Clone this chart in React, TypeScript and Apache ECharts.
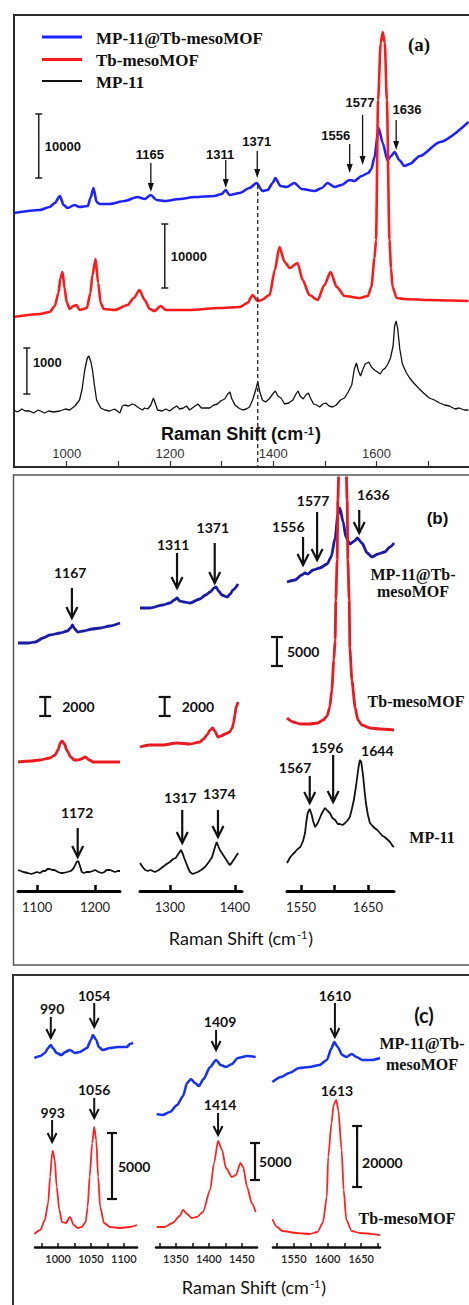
import React, { useEffect, useRef } from "react";
import * as echarts from "echarts";

// ---------- Panel (a): full spectra (intensity above each trace's own baseline, a.u.) ----------
const A_BLUE: number[][] = [[897,2],[948,5],[967,8],[977,12],[987,19],[994,10],[1002,7],[1015,10],[1025,8],[1041,9],[1046,17],[1052,27],[1058,13],[1064,11],[1083,11],[1112,14],[1137,18],[1151,16],[1163,20],[1174,15],[1190,14],[1219,16],[1248,18],[1286,19],[1300,21],[1308,25],[1315,20],[1335,22],[1354,27],[1368,32],[1379,24],[1389,25],[1399,32],[1404,37],[1414,29],[1426,28],[1441,32],[1455,26],[1480,24],[1494,27],[1505,32],[1519,28],[1532,30],[1548,35],[1557,34],[1571,39],[1584,42],[1590,46],[1596,58],[1604,87],[1612,72],[1621,55],[1628,59],[1635,63],[1644,55],[1654,49],[1664,51],[1684,59],[1723,73],[1778,93]];
const A_RED: number[][] = [[897,1],[948,4],[967,6],[977,12],[984,25],[988,40],[992,46],[996,30],[1000,16],[1006,9],[1013,12],[1019,13],[1025,8],[1039,10],[1046,25],[1050,43],[1056,59],[1061,35],[1066,15],[1072,9],[1093,8],[1118,13],[1130,20],[1141,28],[1151,18],[1161,9],[1170,7],[1182,12],[1192,8],[1238,8],[1296,10],[1335,11],[1350,15],[1360,23],[1370,17],[1377,18],[1393,23],[1403,48],[1412,71],[1422,56],[1432,50],[1447,55],[1457,38],[1470,23],[1486,18],[1499,33],[1511,46],[1523,31],[1538,22],[1567,20],[1583,22],[1590,31],[1596,60],[1599,78],[1603,218],[1608,275],[1612,286],[1616,275],[1620,218],[1625,78],[1628,50],[1631,31],[1639,20],[1654,19],[1702,18],[1778,17]];
const A_BLACK: number[][] = [[897,4],[905,2],[913,5],[920,3],[928,3],[936,1],[945,4],[957,1],[965,3],[975,2],[987,3],[997,5],[1006,4],[1016,8],[1025,14],[1030,25],[1035,44],[1040,56],[1043,58],[1047,52],[1050,44],[1054,28],[1058,14],[1066,6],[1074,4],[1083,3],[1093,5],[1103,1],[1108,8],[1112,9],[1120,8],[1127,10],[1132,9],[1140,6],[1147,4],[1151,6],[1157,5],[1163,9],[1168,16],[1172,10],[1176,4],[1185,3],[1192,5],[1199,3],[1207,6],[1213,8],[1219,5],[1226,6],[1232,8],[1238,4],[1246,7],[1254,10],[1261,6],[1270,6],[1277,6],[1285,9],[1292,10],[1298,13],[1306,15],[1312,20],[1316,22],[1320,15],[1326,9],[1333,6],[1341,4],[1348,5],[1354,7],[1360,14],[1366,24],[1370,32],[1374,22],[1379,14],[1385,12],[1392,15],[1399,20],[1404,23],[1409,18],[1415,16],[1422,10],[1430,11],[1438,14],[1444,20],[1448,23],[1452,18],[1458,15],[1463,19],[1468,21],[1472,16],[1478,10],[1484,9],[1490,7],[1496,10],[1502,11],[1508,8],[1515,7],[1522,9],[1530,14],[1538,16],[1545,22],[1552,29],[1557,45],[1561,51],[1565,43],[1569,38],[1573,44],[1578,50],[1585,52],[1590,47],[1596,44],[1602,42],[1607,40],[1612,44],[1617,46],[1622,50],[1627,56],[1632,68],[1635,88],[1638,93],[1641,85],[1645,65],[1650,50],[1657,42],[1664,36],[1672,31],[1683,25],[1693,20],[1702,16],[1712,14],[1722,11],[1732,9],[1741,8],[1752,5],[1760,6],[1770,4],[1778,4]];
const A_OFFSET = { blue: 251, red: 148, black: 52 };

// ---------- Panel (b): zoomed windows (stacked intensity, a.u.) ----------
const B1_BLUE: number[][] = [[1067,248],[1085,248],[1097,249],[1110,253],[1122,256],[1140,258],[1152,260],[1158,263],[1161,266],[1165,262],[1170,259],[1180,260],[1195,262],[1209,263],[1225,265],[1243,268]];
const B1_RED: number[][] = [[1067,129],[1090,130],[1105,131],[1122,133],[1131,136],[1136,141],[1140,148],[1143,150],[1147,147],[1152,140],[1158,134],[1164,131],[1170,131],[1176,132],[1183,134],[1190,131],[1197,129],[1220,129],[1243,129]];
const B1_BLACK: number[][] = [[1067,21],[1072,20],[1076,19],[1084,18],[1090,17],[1095,18],[1100,19],[1105,18],[1110,20],[1114,20],[1118,22],[1122,22],[1126,21],[1130,21],[1136,19],[1141,18],[1145,18],[1152,19],[1158,20],[1162,22],[1165,25],[1168,29],[1171,30],[1174,25],[1177,19],[1181,18],[1185,19],[1191,19],[1196,20],[1200,21],[1206,19],[1212,18],[1216,19],[1220,21],[1226,21],[1230,20],[1234,19],[1239,20],[1243,20]];
const B2_BLUE: number[][] = [[1254,283],[1269,283],[1289,286],[1300,288],[1307,291],[1311,293],[1315,290],[1322,289],[1331,288],[1346,292],[1355,296],[1362,299],[1368,303],[1371,304],[1375,300],[1380,296],[1388,294],[1393,297],[1397,301],[1405,307]];
const B2_RED: number[][] = [[1254,144],[1269,146],[1289,146],[1311,148],[1331,147],[1346,149],[1352,152],[1357,156],[1362,161],[1366,163],[1370,159],[1374,154],[1379,155],[1385,157],[1392,159],[1396,163],[1398,168],[1400,176],[1402,184],[1405,189]];
const B2_BLACK: number[][] = [[1254,28],[1258,24],[1262,21],[1266,20],[1270,21],[1277,19],[1283,21],[1289,24],[1295,27],[1300,29],[1305,32],[1309,33],[1313,37],[1317,41],[1320,37],[1322,33],[1325,28],[1328,23],[1331,19],[1335,17],[1339,18],[1343,19],[1348,21],[1354,24],[1360,29],[1365,34],[1369,43],[1372,49],[1375,44],[1377,41],[1381,37],[1385,33],[1389,29],[1392,26],[1395,28],[1398,31],[1402,35],[1405,38]];
const B3_BLUE: number[][] = [[1529,309],[1541,311],[1551,316],[1556,318],[1560,317],[1568,321],[1578,323],[1589,327],[1595,334],[1601,353],[1605,376],[1608,383],[1613,369],[1617,354],[1623,347],[1630,350],[1634,353],[1641,348],[1649,338],[1656,334],[1665,337],[1675,339],[1683,344],[1689,348]];
const B3_RED: number[][] = [[1529,173],[1538,169],[1549,167],[1563,167],[1575,168],[1583,171],[1589,175],[1593,184],[1596,201],[1599,231],[1601,251],[1602,291],[1604,331],[1605,391],[1612,620],[1619,391],[1620,331],[1622,291],[1623,243],[1626,211],[1631,183],[1635,171],[1641,166],[1653,163],[1668,162],[1689,161]];
const B3_BLACK: number[][] = [[1529,28],[1534,34],[1538,37],[1541,39],[1545,42],[1549,44],[1553,50],[1556,58],[1558,70],[1560,78],[1563,82],[1566,76],[1568,70],[1571,64],[1575,68],[1580,76],[1583,80],[1586,83],[1590,80],[1593,78],[1597,73],[1601,71],[1605,67],[1608,67],[1612,66],[1616,68],[1620,71],[1623,74],[1626,82],[1629,91],[1632,104],[1634,114],[1636,124],[1638,131],[1640,129],[1643,114],[1645,100],[1647,88],[1650,76],[1653,68],[1657,65],[1660,63],[1664,61],[1668,58],[1672,55],[1675,54],[1680,51],[1683,49],[1687,45],[1689,44]];

// ---------- Panel (c): zoomed windows (stacked intensity, a.u.) ----------
const C1_BLUE: number[][] = [[964,189],[973,191],[980,194],[985,199],[989,202],[992,199],[998,194],[1005,192],[1011,195],[1018,197],[1026,194],[1033,195],[1044,199],[1050,207],[1053,212],[1058,207],[1062,200],[1068,197],[1079,199],[1091,200],[1105,200],[1109,203],[1114,204]];
const C1_RED: number[][] = [[964,13],[973,17],[980,27],[985,44],[988,70],[991,94],[992,96],[995,87],[998,60],[1002,37],[1006,25],[1012,24],[1018,30],[1024,22],[1030,19],[1036,20],[1042,25],[1045,40],[1048,70],[1052,104],[1055,120],[1058,107],[1061,70],[1064,40],[1070,24],[1079,20],[1094,19],[1109,20],[1120,22]];
const C2_BLUE: number[][] = [[1321,133],[1330,132],[1341,135],[1352,142],[1361,151],[1367,164],[1373,168],[1379,164],[1385,161],[1392,168],[1402,180],[1411,187],[1418,182],[1426,180],[1435,183],[1444,189],[1458,191],[1471,190]];
const C2_RED: number[][] = [[1321,20],[1333,20],[1345,24],[1356,31],[1361,37],[1367,33],[1374,29],[1382,30],[1391,35],[1402,57],[1408,84],[1414,106],[1420,97],[1426,79],[1435,70],[1441,72],[1448,84],[1452,80],[1458,60],[1465,44],[1471,35]];
const C3_BLUE: number[][] = [[1518,165],[1531,170],[1543,174],[1558,179],[1573,180],[1588,182],[1599,187],[1606,199],[1610,205],[1615,200],[1622,192],[1628,190],[1636,193],[1643,190],[1652,187],[1666,187],[1678,189]];
const C3_RED: number[][] = [[1518,28],[1525,20],[1533,16],[1554,14],[1573,13],[1585,15],[1593,24],[1599,50],[1601,90],[1606,124],[1609,142],[1613,147],[1616,137],[1621,97],[1624,57],[1628,27],[1636,16],[1648,14],[1678,12]];

// ---------- Axis ticks / labels ----------
const A_TICKS = [1000, 1100, 1200, 1300, 1400, 1500, 1600, 1700];
const A_LABELS = [1000, 1200, 1400, 1600];
const B1_TICKS = [1100, 1200];
const B2_TICKS = [1300, 1400];
const B3_TICKS = [1550, 1600, 1650];
const B3_LABELS = [1550, 1650];
const C1_TICKS = [975, 1000, 1025, 1050, 1075, 1100];
const C1_LABELS = [1000, 1050, 1100];
const C2_TICKS = [1325, 1350, 1375, 1400, 1425, 1450];
const C2_LABELS = [1350, 1400, 1450];
const C3_TICKS = [1525, 1550, 1575, 1600, 1625, 1650, 1675];
const C3_LABELS = [1550, 1600, 1650];

const SERIES_NAMES = ["MP-11@Tb-mesoMOF", "Tb-mesoMOF", "MP-11"];

// ---------- Annotations (data coordinates) ----------
const ARROWS = [
  { g: 0, x: 1163, top: 303, tip: 274, label: "1165", lx: 1161, ly: 312 },
  { g: 0, x: 1308, top: 306, tip: 278, label: "1311", lx: 1297, ly: 312 },
  { g: 0, x: 1369, top: 315, tip: 288, label: "1371", lx: 1368, ly: 325 },
  { g: 0, x: 1548, top: 322, tip: 293, label: "1556", lx: 1521, ly: 331 },
  { g: 0, x: 1573, top: 351, tip: 301, label: "1577", lx: 1568, ly: 364 },
  { g: 0, x: 1638, top: 346, tip: 316, label: "1636", lx: 1659, ly: 357 },
  { g: 1, x: 1160, top: 303, tip: 273, label: "1167", lx: 1157, ly: 319 },
  { g: 1, x: 1170, top: 63, tip: 34, label: "1172", lx: 1169, ly: 79 },
  { g: 2, x: 1311, top: 338, tip: 303, label: "1311", lx: 1305, ly: 347 },
  { g: 2, x: 1369, top: 348, tip: 308, label: "1371", lx: 1366, ly: 364 },
  { g: 2, x: 1319, top: 81, tip: 48, label: "1317", lx: 1316, ly: 94 },
  { g: 2, x: 1374, top: 81, tip: 54, label: "1374", lx: 1376, ly: 98 },
  { g: 3, x: 1553, top: 354, tip: 326, label: "1556", lx: 1531, ly: 365 },
  { g: 3, x: 1574, top: 379, tip: 331, label: "1577", lx: 1568, ly: 391 },
  { g: 3, x: 1637, top: 381, tip: 358, label: "1636", lx: 1658, ly: 397 },
  { g: 3, x: 1563, top: 115, tip: 88, label: "1567", lx: 1541, ly: 124 },
  { g: 3, x: 1598, top: 136, tip: 89, label: "1596", lx: 1589, ly: 144 },
  { g: 3, x: null, top: 0, tip: 0, label: "1644", lx: 1664, ly: 141 },
  { g: 4, x: 989, top: 230, tip: 209, label: "990", lx: 991, ly: 239 },
  { g: 4, x: 1055, top: 244, tip: 220, label: "1054", lx: 1055, ly: 252 },
  { g: 4, x: 991, top: 127, tip: 105, label: "993", lx: 992, ly: 135 },
  { g: 4, x: 1055, top: 149, tip: 129, label: "1056", lx: 1055, ly: 158 },
  { g: 5, x: 1411, top: 217, tip: 197, label: "1409", lx: 1417, ly: 226 },
  { g: 5, x: 1414, top: 134, tip: 112, label: "1414", lx: 1417, ly: 143 },
  { g: 6, x: 1611, top: 244, tip: 210, label: "1610", lx: 1611, ly: 252 },
  { g: 6, x: null, top: 0, tip: 0, label: "1613", lx: 1614, ly: 157 },
];
const SCALE_BARS = [
  { g: 0, x: 946, y0: 288, y1: 352, label: "10000", dx: 6, ly: null },
  { g: 0, x: 1190, y0: 178, y1: 242, label: "10000", dx: 6, ly: null },
  { g: 0, x: 923, y0: 72, y1: 118, label: "1000", dx: 6, ly: 104 },
  { g: 1, x: 1114, y0: 175, y1: 194, label: "2000", dx: 17, ly: null },
  { g: 2, x: 1292, y0: 175, y1: 194, label: "2000", dx: 17, ly: null },
  { g: 3, x: 1514, y0: 225, y1: 254, label: "5000", dx: 10, ly: null },
  { g: 4, x: 1082, y0: 48, y1: 114, label: "5000", dx: 6, ly: null },
  { g: 5, x: 1470, y0: 67, y1: 104, label: "5000", dx: 4, ly: null },
  { g: 6, x: 1644, y0: 60, y1: 121, label: "20000", dx: 5, ly: 85 },
];
const MARKER_1371 = { x: 1370, from: 281, to: 0 };

const SANS = '"Liberation Sans", Arial, sans-serif';
const SERIF = '"Liberation Serif", "Times New Roman", serif';
const CAL = 'Lato, "Liberation Sans", sans-serif';

const GRIDS = [
  { left: 15, top: 15, width: 454, height: 451, min: 900, max: 1779, ymax: 451 },
  { left: 18, top: 478, width: 102, height: 413, min: 1067, max: 1243, ymax: 413 },
  { left: 140, top: 478, width: 102, height: 413, min: 1254, max: 1411, ymax: 413 },
  { left: 287, top: 478, width: 107, height: 413, min: 1529, max: 1689, ymax: 413 },
  { left: 35, top: 978, width: 102, height: 269, min: 965, max: 1120, ymax: 269 },
  { left: 156, top: 978, width: 101, height: 269, min: 1320, max: 1473, ymax: 269 },
  { left: 273, top: 978, width: 107, height: 269, min: 1519, max: 1678, ymax: 269 },
];

function buildOption() {
  const grid = GRIDS.map((g) => ({
    left: g.left, top: g.top, width: g.width, height: g.height,
    containLabel: false, outerBoundsMode: "none",
  }));
  const fmt = (v: number) => String(v);
  const axisA = {
    axisLine: { show: false },
    axisTick: { show: true, inside: true, length: 5, lineStyle: { color: "#333", width: 1.2 }, customValues: A_TICKS },
    axisLabel: { show: true, inside: true, margin: 6, fontSize: 13, color: "#333", fontFamily: SANS, formatter: fmt, customValues: A_LABELS },
  };
  const axisB = (ticks: number[], labels: number[]) => ({
    axisLine: { show: true, lineStyle: { color: "#000", width: 3 } },
    axisTick: { show: true, inside: true, length: 6, lineStyle: { color: "#000", width: 2.5 }, customValues: ticks },
    axisLabel: { show: true, margin: 9, fontSize: 13, color: "#222", fontFamily: CAL, formatter: fmt, customValues: labels },
  });
  const axisC = (ticks: number[], labels: number[]) => ({
    axisLine: { show: true, lineStyle: { color: "#111", width: 2.5 } },
    axisTick: { show: true, inside: true, length: 4, lineStyle: { color: "#111", width: 1.5 }, customValues: ticks },
    axisLabel: { show: true, margin: 6, fontSize: 11, fontWeight: 600, color: "#222", fontFamily: CAL, formatter: fmt, customValues: labels },
  });
  const axisStyles = [
    axisA,
    axisB(B1_TICKS, B1_TICKS), axisB(B2_TICKS, B2_TICKS), axisB(B3_TICKS, B3_LABELS),
    axisC(C1_TICKS, C1_LABELS), axisC(C2_TICKS, C2_LABELS), axisC(C3_TICKS, C3_LABELS),
  ];
  const xAxis = GRIDS.map((g, i) => ({
    type: "value", gridIndex: i, min: g.min, max: g.max, splitLine: { show: false },
    ...axisStyles[i],
  }));
  const yAxis = GRIDS.map((g, i) => ({
    type: "value", gridIndex: i, min: 0, max: g.ymax, show: false, splitLine: { show: false },
  }));
  const line = (name: string, data: number[][], gi: number, color: string, width: number, smooth: number | boolean) => ({
    type: "line", name, data, xAxisIndex: gi, yAxisIndex: gi, symbol: "none", showSymbol: false,
    smooth, smoothMonotone: "x", clip: true, silent: true,
    lineStyle: { color, width }, itemStyle: { color },
  });
  const off = (d: number[][], o: number) => d.map(([x, v]) => [x, v + o]);
  const [nB, nR, nK] = SERIES_NAMES;
  const series = [
    line(nB, off(A_BLUE, A_OFFSET.blue), 0, "#1e22ff", 2.6, 0.25),
    line(nR, off(A_RED, A_OFFSET.red), 0, "#ff1a1a", 2.6, 0.25),
    line(nK, off(A_BLACK, A_OFFSET.black), 0, "#111", 1.3, false),
    line(nB, B1_BLUE, 1, "#1b1ba6", 2.8, 0.25),
    line(nR, B1_RED, 1, "#e81a22", 2.8, 0.25),
    line(nK, B1_BLACK, 1, "#111", 1.8, false),
    line(nB, B2_BLUE, 2, "#1b1ba6", 2.8, 0.25),
    line(nR, B2_RED, 2, "#e81a22", 2.8, 0.25),
    line(nK, B2_BLACK, 2, "#111", 1.8, false),
    line(nB, B3_BLUE, 3, "#1b1ba6", 2.8, 0.25),
    line(nR, B3_RED, 3, "#e81a22", 2.8, 0.2),
    line(nK, B3_BLACK, 3, "#111", 1.8, false),
    line(nB, C1_BLUE, 4, "#1832f5", 2.6, 0.25),
    line(nR, C1_RED, 4, "#ff2222", 1.8, 0.25),
    line(nB, C2_BLUE, 5, "#1832f5", 2.6, 0.25),
    line(nR, C2_RED, 5, "#ff2222", 1.8, 0.25),
    line(nB, C3_BLUE, 6, "#1832f5", 2.6, 0.25),
    line(nR, C3_RED, 6, "#ff2222", 1.8, 0.25),
  ];
  return { animation: false, backgroundColor: "#fff", grid, xAxis, yAxis, series };
}

function txt(x: number, y: number, text: string, size: number, family: string, weight: any, align = "center", fill = "#111") {
  return {
    type: "text", x, y, z: 100, silent: true,
    style: { text, fill, fontSize: size, fontFamily: family, fontWeight: weight, align, textAlign: align, verticalAlign: "middle", textVerticalAlign: "middle" },
  };
}
function ln(x1: number, y1: number, x2: number, y2: number, w: number, color = "#111", dash?: number[]) {
  return { type: "line", z: 100, silent: true, shape: { x1, y1, x2, y2 }, style: { stroke: color, lineWidth: w, lineDash: dash } };
}

export default function App() {
  const ref = useRef<HTMLDivElement>(null);
  useEffect(() => {
    if (!ref.current) return;
    const chart = echarts.init(ref.current, null, { renderer: "svg", width: 469, height: 1305 });
    chart.setOption(buildOption() as any);
    const P = (g: number, x: number, y: number) => chart.convertToPixel({ gridIndex: g } as any, [x, y]) as unknown as number[];
    const els: any[] = [];

    // panel frames
    els.push({ type: "rect", z: 90, silent: true, shape: { x: 14, y: 15, width: 470, height: 452 }, style: { fill: "none", stroke: "#2a2a2a", lineWidth: 2 } });
    els.push({ type: "rect", z: 90, silent: true, shape: { x: 13.5, y: 475, width: 470, height: 490 }, style: { fill: "none", stroke: "#555", lineWidth: 1.5 } });
    els.push({ type: "rect", z: 90, silent: true, shape: { x: 13, y: 975, width: 470, height: 345 }, style: { fill: "none", stroke: "#333", lineWidth: 2 } });

    // legend (panel a)
    const legendColors = ["#1e22ff", "#ff1a1a", "#111"];
    const legendWidths = [3, 3, 2];
    const legendY = [37, 59.5, 81];
    SERIES_NAMES.forEach((n, i) => {
      els.push(ln(42, legendY[i], 82, legendY[i], legendWidths[i], legendColors[i]));
      els.push(txt(96, legendY[i] + 1, n, 17, SERIF, "bold", "left"));
    });

    // dashed marker at 1371
    const [mx, my0] = P(0, MARKER_1371.x, MARKER_1371.from);
    const [, my1] = P(0, MARKER_1371.x, MARKER_1371.to);
    els.push(ln(mx, my0, mx, my1, 1.3, "#222", [4, 3]));

    // arrows + peak labels
    ARROWS.forEach((a) => {
      const big = a.g > 0;
      const [lxp, lyp] = P(a.g, a.lx, a.ly);
      els.push(txt(lxp, lyp, a.label, big ? 14 : 13, big ? CAL : SANS, "bold"));
      if (a.x == null) return;
      const [ax, at] = P(a.g, a.x, a.top);
      const [, ap] = P(a.g, a.x, a.tip);
      if (!big) {
        els.push(ln(ax, at, ax, ap - 7, 1.3));
        els.push({ type: "polygon", z: 100, silent: true, shape: { points: [[ax - 3, ap - 9], [ax + 3, ap - 9], [ax, ap]] }, style: { fill: "#111" } });
      } else {
        const hw = a.g >= 4 ? 4.5 : 5.5;
        const hh = a.g >= 4 ? 9 : 11;
        const w = a.g >= 4 ? 2 : 2.2;
        els.push(ln(ax, at, ax, ap, w));
        els.push({ type: "polyline", z: 100, silent: true, shape: { points: [[ax - hw, ap - hh], [ax, ap], [ax + hw, ap - hh]] }, style: { stroke: "#111", lineWidth: w, fill: "none" } });
      }
    });

    // intensity scale bars
    SCALE_BARS.forEach((b) => {
      const [bx, by0] = P(b.g, b.x, b.y0);
      const [, by1] = P(b.g, b.x, b.y1);
      const hw = b.g === 0 ? 3.5 : b.g <= 3 ? 6 : 5;
      const w = b.g === 0 ? 1.4 : 2.2;
      els.push(ln(bx, by0, bx, by1, w));
      els.push(ln(bx - hw, by0, bx + hw, by0, w));
      els.push(ln(bx - hw, by1, bx + hw, by1, w));
      const ly = b.ly == null ? (by0 + by1) / 2 : P(b.g, b.x, b.ly)[1];
      els.push(txt(bx + b.dx, ly, b.label, b.g === 0 ? 13 : 14, b.g === 0 ? SANS : CAL, "bold", "left"));
    });

    // panel tags and trace names
    els.push(txt(419, 44, "(a)", 19, SERIF, "bold"));
    els.push(txt(437.5, 518, "(b)", 17, SANS, "bold"));
    els.push(txt(424, 1015, "(c)", 20, CAL, "bold"));
    els.push(txt(413, 574, "MP-11@Tb-", 16, SERIF, "bold"));
    els.push(txt(413, 591, "mesoMOF", 16, SERIF, "bold"));
    els.push(txt(416, 701, "Tb-mesoMOF", 16, SERIF, "bold"));
    els.push(txt(432, 837, "MP-11", 16, SERIF, "bold"));
    els.push(txt(422, 1043, "MP-11@Tb-", 16, SERIF, "bold"));
    els.push(txt(422, 1064, "mesoMOF", 16, SERIF, "bold"));
    els.push(txt(407, 1218, "Tb-mesoMOF", 16, SERIF, "bold"));

    // axis titles with superscript
    const title = (x: number, y: number, family: string, weight: any) => ({
      type: "text", x, y, z: 100, silent: true,
      style: {
        text: "{n|Raman Shift (cm}{s|-1}{n|)}",
        align: "center", textAlign: "center", verticalAlign: "middle", textVerticalAlign: "middle",
        fill: "#111", fontFamily: family, fontWeight: weight, fontSize: 18,
        rich: {
          n: { fontSize: 18, fontFamily: family, fontWeight: weight, fill: "#111", lineHeight: 18, verticalAlign: "bottom" },
          s: { fontSize: 11, fontFamily: family, fontWeight: weight, fill: "#111", lineHeight: 18, verticalAlign: "top", padding: [0, 1, 0, 1] },
        },
      },
    });
    els.push(title(241, 434, SANS, "bold"));
    els.push(title(241, 938, CAL, "normal"));
    els.push(title(254, 1287, CAL, "normal"));

    chart.setOption({ graphic: { elements: els } } as any);
    return () => chart.dispose();
  }, []);
  return (
    <div style={{ position: "fixed", left: 0, top: 0, width: 469, height: 1305, background: "#fff" }}>
      <div ref={ref} style={{ width: 469, height: 1305 }} />
    </div>
  );
}
